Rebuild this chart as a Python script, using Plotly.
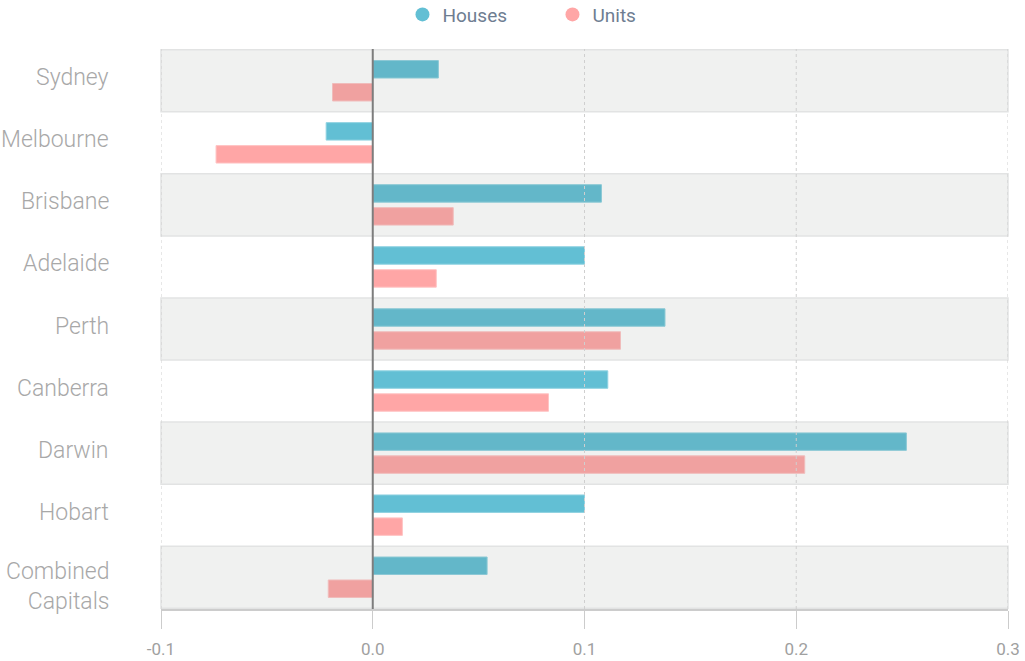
import plotly.graph_objects as go

cities = ["Sydney", "Melbourne", "Brisbane", "Adelaide", "Perth",
          "Canberra", "Darwin", "Hobart", "Combined<br>Capitals"]
houses = [0.031, -0.022, 0.108, 0.100, 0.138, 0.111, 0.252, 0.100, 0.054]
units = [-0.019, -0.074, 0.038, 0.030, 0.117, 0.083, 0.204, 0.014, -0.021]
tick_vals = [-0.1, 0.0, 0.1, 0.2, 0.3]
tick_text = ["-0.1", "0.0", "0.1", "0.2", "0.3"]

HOUSE_COL = "#62bfd4"
UNIT_COL = "#ffa6a6"

fig = go.Figure()
fig.add_trace(go.Bar(
    y=cities, x=houses, orientation="h", name="Houses",
    marker=dict(color=HOUSE_COL, line=dict(color="#8fd2e1", width=1)),
    showlegend=False,
))
fig.add_trace(go.Bar(
    y=cities, x=units, orientation="h", name="Units",
    marker=dict(color=UNIT_COL, line=dict(color="#ffc4c4", width=1)),
    showlegend=False,
))

# legend entries with round markers
for name, col in [("Houses", HOUSE_COL), ("Units", UNIT_COL)]:
    fig.add_trace(go.Scatter(
        x=[None], y=[None], mode="markers", name=name,
        marker=dict(color=col, size=14, symbol="circle"),
    ))

shapes = []
# alternating row bands, drawn over the bars so they tint them
for i in range(0, len(cities), 2):
    shapes.append(dict(
        type="rect", xref="paper", yref="y", x0=0, x1=1,
        y0=i - 0.5, y1=i + 0.5, layer="above",
        fillcolor="rgba(105,115,110,0.1)",
        line=dict(color="#e2e3e3", width=1.5),
    ))
# dashed grid above the bars
for t in tick_vals:
    if t == 0:
        continue
    shapes.append(dict(
        type="line", xref="x", yref="paper", x0=t, x1=t, y0=0, y1=1,
        layer="above", line=dict(color="#cfcfcf", width=1, dash="3px,3px"),
    ))
shapes.append(dict(
    type="line", xref="x", yref="paper", x0=0, x1=0, y0=0, y1=1,
    layer="above", line=dict(color="#7d7d7d", width=2),
))

# category labels as annotations so two-line label can sit lower
annotations = []
for c in cities:
    two_line = "<br>" in c
    annotations.append(dict(
        xref="paper", yref="y", x=0, y=c, text=c, showarrow=False,
        xanchor="right", xshift=-50, yshift=-9 if two_line else 3,
        align="right",
        font=dict(size=23, color="#a8a8a8", weight=300),
    ))

fig.update_layout(
    width=1025, height=661,
    barmode="group", bargap=0.26, bargroupgap=0.24,
    plot_bgcolor="white", paper_bgcolor="white",
    font=dict(family="Roboto", color="#999999"),
    margin=dict(l=161, r=17, t=49, b=52, autoexpand=False),
    shapes=shapes,
    annotations=annotations,
    legend=dict(
        orientation="h", xref="container", x=0.539, xanchor="center",
        yref="container", y=0.978, yanchor="middle",
        font=dict(size=19, color="#6e7d91"), entrywidth=105,
    ),
    xaxis=dict(
        range=[-0.1, 0.3], tickvals=tick_vals, ticktext=tick_text,
        showgrid=False, zeroline=False, showline=True, linecolor="#cccccc",
        linewidth=1.5, ticks="outside", ticklen=18, tickcolor="#cccccc",
        tickfont=dict(size=17, color="#a0a0a0"), ticklabelstandoff=6,
    ),
    yaxis=dict(
        autorange="reversed", showgrid=False, zeroline=False,
        showticklabels=False,
    ),
)

# drop the default body margin so the figure fills the window
fig.write_html("out.html", config={"displayModeBar": False},
               post_script="document.body.style.margin='0px';")
